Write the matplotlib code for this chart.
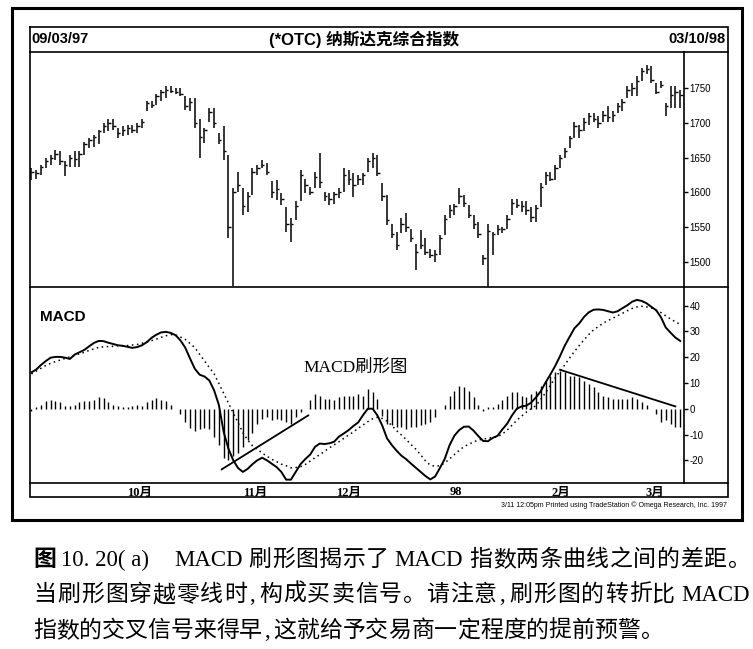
import matplotlib
matplotlib.use('Agg')
import matplotlib.pyplot as plt
from matplotlib.font_manager import FontProperties

plt.rcParams['axes.unicode_minus'] = False

# ---------------- data ----------------
highs = [1635,1632,1640,1649,1654,1661,1659,1645,1654,1659,
         1659,1673,1678,1683,1690,1700,1705,1705,1693,1695,
         1697,1697,1700,1705,1731,1731,1741,1748,1753,1753,
         1750,1750,1738,1736,1736,1705,1693,1722,1722,1685,
         1695,1654,1606,1630,1606,1601,1635,1640,1647,1642,
         1616,1618,1599,1579,1563,1587,1632,1620,1608,1630,
         1657,1601,1599,1601,1606,1635,1632,1628,1625,1628,
         1649,1657,1654,1613,1596,1555,1543,1563,1570,1548,
         1526,1546,1534,1519,1517,1539,1567,1582,1584,1606,
         1596,1582,1567,1558,1510,1555,1543,1553,1551,1567,
         1591,1591,1587,1587,1579,1582,1613,1630,1630,1640,
         1654,1664,1681,1702,1697,1707,1714,1714,1710,1717,
         1724,1717,1729,1734,1753,1758,1767,1779,1784,1782,
         1758,1760,1729,1753,1753,1748]
lows = [1618,1620,1625,1635,1640,1647,1640,1623,1637,1637,
        1637,1654,1664,1666,1669,1685,1688,1690,1678,1681,
        1683,1685,1685,1693,1717,1722,1726,1731,1736,1743,
        1741,1738,1719,1717,1693,1649,1671,1702,1693,1669,
        1647,1534,1466,1601,1568,1572,1597,1625,1635,1625,
        1592,1589,1582,1543,1529,1560,1587,1599,1596,1606,
        1606,1587,1582,1584,1592,1601,1611,1594,1611,1611,
        1630,1635,1623,1587,1553,1534,1517,1541,1543,1529,
        1488,1519,1510,1505,1500,1510,1539,1563,1567,1584,
        1579,1563,1548,1534,1495,1464,1510,1539,1541,1548,
        1567,1577,1572,1567,1558,1558,1579,1611,1616,1618,
        1635,1649,1664,1678,1678,1688,1697,1702,1693,1702,
        1702,1702,1714,1717,1736,1738,1738,1760,1770,1758,
        1741,1750,1710,1722,1722,1722]
closes = [1630,1628,1636,1645,1650,1655,1645,1640,1650,1648,
          1655,1670,1675,1680,1688,1696,1700,1695,1685,1690,
          1692,1690,1696,1702,1728,1726,1738,1745,1748,1746,
          1745,1742,1725,1730,1700,1680,1690,1715,1700,1675,
          1660,1550,1600,1610,1580,1595,1630,1635,1640,1630,
          1600,1605,1590,1555,1555,1580,1625,1610,1600,1622,
          1615,1595,1590,1598,1600,1625,1620,1610,1620,1625,
          1645,1650,1628,1595,1560,1540,1525,1555,1550,1535,
          1515,1525,1515,1510,1512,1535,1562,1575,1580,1595,
          1585,1568,1555,1540,1505,1545,1540,1548,1548,1562,
          1585,1582,1580,1575,1565,1578,1608,1625,1620,1635,
          1650,1660,1678,1695,1690,1702,1710,1705,1700,1712,
          1708,1712,1725,1730,1748,1750,1760,1775,1778,1762,
          1745,1755,1725,1740,1745,1740]
macd = [14.1,15.2,17,18.5,19.8,20.1,20.1,19.8,19.3,21,
        21.9,22.8,24.2,25.5,26.3,26.2,25.6,25.1,24.6,24.4,
        24,23.6,23.9,24.6,25.8,27.5,28.7,29.6,29.8,29.4,
        28.5,26.5,23.7,19.5,15.5,13.2,12.5,11,7.2,1.5,
        -9,-15.5,-20,-23,-24.5,-23.3,-21.5,-20,-19,-20,
        -21.3,-22.6,-24.5,-27.5,-27.5,-24.5,-21.5,-19.5,-17.8,-14.8,
        -13.5,-13.7,-13.4,-12.8,-10.8,-9.6,-8.3,-6.7,-5.3,-2.5,
        0,0,-2.6,-6.5,-11.5,-14.1,-16.3,-18.2,-19.6,-21.3,
        -22.9,-24.5,-26.1,-27.4,-26.3,-23,-19.5,-14.2,-10.5,-8.3,
        -7,-6.9,-8.5,-10.6,-12.5,-12.6,-11.3,-10.5,-8,-5.8,
        -2.6,0,0.9,1.2,2.4,4.4,6.8,10.2,13.3,16.6,
        20.4,24.5,27.9,31.2,33.1,35.6,37.4,38.4,38.5,38.3,
        37.8,37.3,37.8,39,40.1,41.5,42.2,41.8,40.9,39.5,
        38.2,35.5,31.5,29.5,27.6,26.3]
signal = [13.5,14.6,15.7,16.8,17.6,18.3,18.9,19.5,20.1,20.7,
          21.3,21.9,22.6,23.2,23.8,24,24.1,24.2,24.4,24.4,
          24.5,24.7,24.9,25.4,25.8,26.4,27,27.7,28.3,28.7,
          28.6,27.8,26.9,25.3,23.7,21.1,18.6,16,13.6,9.8,
          6,2.2,-1.7,-5.4,-9.3,-12.1,-14.4,-15.7,-17.2,-18.4,
          -19.6,-20.5,-21.5,-22.1,-22.9,-22.8,-22.5,-21.6,-20.3,-19,
          -17.8,-16.5,-15.2,-14,-12.8,-11.5,-10.2,-9,-7.6,-6.3,
          -5,-3.9,-3.3,-3.8,-4.8,-6.5,-8.5,-10.2,-12,-13.9,
          -15.7,-17.9,-20.2,-21.9,-22.3,-22.1,-21,-19.5,-17.8,-16.2,
          -14.7,-13.8,-12.9,-12.1,-11.8,-11.4,-11.2,-10.9,-9.8,-8.3,
          -6.4,-4.5,-2.9,-1.3,0,1.2,3.7,6.2,9.1,12,
          14.6,17,19.7,22.2,24.5,26.7,28.8,30.6,31.9,33.2,
          34.2,35.1,36.1,37,38,38.9,39.5,39.7,39.5,39.1,
          38.2,37.3,36,34.8,33.7,32.7]
hist = [-1,0.5,1.5,3,3.5,3,2.5,1,1,1.5,
        2.5,3,3,3.5,4.5,4,2.5,1.5,1,0.5,
        0.5,1,1.5,1,2.5,3.5,4,3.5,3,1.5,
        0,-2,-5,-7.5,-8.5,-8,-7.5,-8,-11,-14,
        -19,-20,-18.5,-17,-15,-12,-9.5,-6,-4,-3.2,
        -4.5,-3.8,-4.5,-5,-5.8,-3.2,-1.3,0,3.2,5.8,
        5.1,3.8,3.8,3.5,4.5,5.1,5.1,5.1,5.8,5.1,
        7.7,6.4,3.8,-3,-5.8,-6.4,-7,-7,-7.7,-7,
        -7,-6.5,-5.8,-5.1,-3.2,0,1.3,5.1,7,9,
        8.6,7,4.5,1.3,-1,0.6,0.8,1.7,3.2,5.1,
        6.4,6.4,5.1,4.5,5.8,7,9,10.9,12.8,14.1,
        14.7,14.1,12.8,12.8,12.2,10.9,9.6,8.3,6.4,5.1,
        4.5,3.8,3.8,3.8,3.8,4.5,3.8,2.6,1.3,0,
        -1.9,-5.1,-4.5,-5.8,-7,-7]

price_ticks = [1500, 1550, 1600, 1650, 1700, 1750]
macd_ticks = [-20, -10, 0, 10, 20, 30, 40]
month_pos = [22.5, 46.6, 65.9, 88.4, 110.1, 129.7]
month_labels = ['10月', '11月', '12月', '98', '2月', '3月']
trend1_x, trend1_y = [39.6, 57.6], [-23.5, -2.6]
trend2_x, trend2_y = [110.0, 134.0], [15.1, 0.9]

title_left = '09/03/97'
title_mid = '(*OTC) 纳斯达克综合指数'
title_right = '03/10/98'
footer = '3/11 12:05pm Printed using TradeStation © Omega Research, Inc. 1997'

# ---------------- figure ----------------
W, H = 753, 649
fig = plt.figure(figsize=(W / 100, H / 100), dpi=100)

def fx(x):
    return x / W

def fy(y):
    return 1 - y / H

n = min(len(highs), len(lows), len(closes))
idx = list(range(n))
m = min(len(macd), len(signal), len(hist))
midx = list(range(m))

XL = (-0.3, 135.8)

# price panel
ax1 = fig.add_axes([fx(30), fy(287), fx(684) - fx(30), fy(52) - fy(287)])
ax1.vlines(idx, lows[:n], highs[:n], color='black', lw=1.1)
ax1.hlines(closes[:n], idx, [i + 0.5 for i in idx], color='black', lw=1.0)
ax1.set_xlim(*XL)
ax1.set_ylim(1464, 1802)
ax1.set_xticks([])
ax1.yaxis.tick_right()
ax1.set_yticks(price_ticks)
ax1.set_yticklabels([str(t) for t in price_ticks], fontfamily='Liberation Sans', fontsize=7)
ax1.tick_params(axis='y', direction='out', length=3, width=1, pad=1)
for s in ('top', 'left', 'bottom'):
    ax1.spines[s].set_visible(False)
ax1.spines['right'].set_linewidth(1.2)

# MACD panel
ax2 = fig.add_axes([fx(30), fy(483), fx(684) - fx(30), fy(287) - fy(483)])
ax2.vlines(midx, 0, hist[:m], color='black', lw=1.0)
ax2.plot(midx, macd[:m], color='black', lw=1.4)
ax2.plot(midx, signal[:m], color='black', lw=1.1, ls=(0, (1, 2.3)))
ax2.plot(trend1_x, trend1_y, color='black', lw=1.3)
ax2.plot(trend2_x, trend2_y, color='black', lw=1.3)
ax2.set_xlim(*XL)
ax2.set_ylim(-28.8, 47.2)
ax2.yaxis.tick_right()
ax2.set_yticks(macd_ticks)
ax2.set_yticklabels([str(t) for t in macd_ticks], fontfamily='Liberation Sans', fontsize=7)
ax2.tick_params(axis='y', direction='out', length=3, width=1, pad=1)
ax2.set_xticks(month_pos)
ax2.set_xticklabels(month_labels, fontfamily=['Liberation Serif', 'Noto Sans CJK SC'],
                    fontsize=9, fontweight='bold')
ax2.tick_params(axis='x', length=0, pad=2.5)
for s in ('top', 'left', 'bottom'):
    ax2.spines[s].set_visible(False)
ax2.spines['right'].set_linewidth(1.2)

# frame overlay in pixel coordinates
fa = fig.add_axes([0, 0, 1, 1], zorder=10)
fa.set_xlim(0, W)
fa.set_ylim(H, 0)
fa.axis('off')
fa.patch.set_alpha(0)

def rect(x0, y0, x1, y1, lw):
    fa.plot([x0, x1, x1, x0, x0], [y0, y0, y1, y1, y0], color='black', lw=lw, solid_joinstyle='miter')

rect(12, 8, 742, 520, 2.2)
rect(30, 27, 728, 497, 1.2)
for yy in (52, 287, 483):
    fa.plot([30, 728], [yy, yy], color='black', lw=1.2)

fa.text(31, 39, title_left, fontfamily='Liberation Sans', fontweight='bold', fontsize=10.5,
        ha='left', va='center')
fa.text(364, 39, title_mid, fontfamily=['Liberation Sans', 'Noto Sans CJK SC'], fontweight='bold',
        fontsize=12, ha='center', va='center')
fa.text(726, 39, title_right, fontfamily='Liberation Sans', fontweight='bold', fontsize=10.5,
        ha='right', va='center')
fa.text(40, 317, 'MACD', fontfamily='Liberation Sans', fontweight='bold', fontsize=11,
        ha='left', va='center')
fa.text(303, 368, 'MACD刷形图', fontfamily=['Liberation Serif', 'Noto Sans CJK SC'], fontsize=12.5,
        ha='left', va='center')
fa.text(727, 505, footer, fontfamily='Liberation Sans', fontsize=5, ha='right', va='center')

# ---------------- caption ----------------
CAP = 16.5
em = CAP * 100 / 72
fp_cjk = FontProperties(family='Noto Sans CJK SC', size=CAP)
fp_cjkb = FontProperties(family='Noto Sans CJK SC', size=CAP, weight='bold')
fp_lat = FontProperties(family='Liberation Serif', size=CAP)
renderer = fig.canvas.get_renderer()

def cells(s):
    return [('C', ch) for ch in s]

def layout(items, x0, base, x1=None):
    fixed = 0.0
    units = 0.0
    widths = {}
    for kind, t in items:
        if kind == 'L':
            tmp = fa.text(0, 0, t, fontproperties=fp_lat)
            widths[t] = tmp.get_window_extent(renderer).width
            tmp.remove()
            fixed += widths[t]
        elif kind == 'S':
            fixed += float(t) * em
        elif kind in ('C', 'B'):
            units += 1
        elif kind == 'P':
            units += 0.5
    pitch = em if x1 is None else (x1 - x0 - fixed) / units
    x = x0
    for kind, t in items:
        if kind in ('C', 'B'):
            fa.text(x + pitch / 2, base, t, fontproperties=fp_cjkb if kind == 'B' else fp_cjk,
                    ha='center', va='baseline')
            x += pitch
        elif kind == 'P':
            fa.text(x + pitch * 0.2, base, t, fontproperties=fp_lat, ha='center', va='baseline')
            x += pitch * 0.5
        elif kind == 'L':
            fa.text(x, base, t, fontproperties=fp_lat, ha='left', va='baseline')
            x += widths[t]
        elif kind == 'S':
            x += float(t) * em

line1 = ([('B', '图'), ('S', '0.2'), ('L', '10. 20( a)'), ('S', '1.1'), ('L', 'MACD'), ('S', '0.25')]
         + cells('刷形图揭示了') + [('S', '0.25'), ('L', 'MACD'), ('S', '0.25')]
         + cells('指数两条曲线之间的差距。'))
line2 = (cells('当刷形图穿越零线时') + [('P', ',')] + cells('构成买卖信号。请注意') + [('P', ',')]
         + cells('刷形图的转折比') + [('S', '0.25'), ('L', 'MACD')])
line3 = cells('指数的交叉信号来得早') + [('P', ',')] + cells('这就给予交易商一定程度的提前预警。')

layout(line1, 33, 566, 750)
layout(line2, 33, 601, 750)
layout(line3, 33, 637)

fig.savefig('out.png', dpi=100, facecolor='white')
